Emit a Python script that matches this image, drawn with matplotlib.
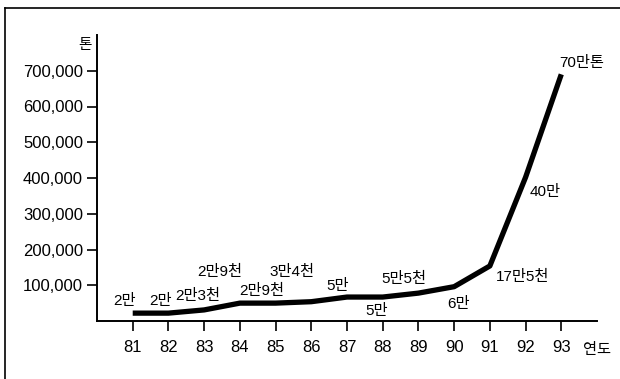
import matplotlib
matplotlib.use("Agg")
import matplotlib.pyplot as plt
from matplotlib.lines import Line2D

plt.rcParams['font.family'] = ['Liberation Sans', 'Noto Sans CJK KR', 'DejaVu Sans']

# 연도별 값
years = [81, 82, 83, 84, 85, 86, 87, 88, 89, 90, 91, 92, 93]
values = [22000, 22000, 31000, 50000, 50000, 54000, 67000, 67000,
          78000, 96000, 154000, 402000, 690000]
labels = ['2만', '2만', '2만3천', '2만9천', '2만9천', '3만4천', '5만',
          '5만', '5만5천', '6만', '17만5천', '40만', '70만톤']
# 라벨 위치 (점에서의 픽셀 오프셋)
label_offsets = [(-8, 12), (-8, 12), (-6, 14), (-20, 31), (-14, 12),
                 (-19, 30), (-9, 11), (-6, -14), (-15, 14), (4, -17),
                 (33, -11), (20, -15), (20, 11)]
yticks = [100000, 200000, 300000, 400000, 500000, 600000, 700000]

fig = plt.figure(figsize=(6.2, 3.79), dpi=100)
ax = fig.add_axes([97/620, 1-321/379, 500/620, 286/379])

ax.plot(years, values, color='black', lw=3.8, solid_capstyle='butt',
        solid_joinstyle='round')

for x, v, t, off in zip(years, values, labels, label_offsets):
    ax.annotate(t, (x, v), xytext=off, textcoords='offset pixels',
                ha='center', va='center', fontsize=11)

ax.set_xlim(80, 94)
ax.set_ylim(0, 800000)
ax.set_xticks(years)
ax.set_xticklabels([str(y) for y in years])
ax.set_yticks(yticks)
ax.set_yticklabels([f'{v:,}' for v in yticks])
ax.tick_params(axis='x', direction='out', length=7, width=1.2, pad=7, labelsize=12)
ax.tick_params(axis='y', direction='out', length=7, width=1.2, pad=3, labelsize=12)

for s in ['top', 'right']:
    ax.spines[s].set_visible(False)
for s in ['left', 'bottom']:
    ax.spines[s].set_linewidth(1.4)

ax.text(-0.024, 0.965, '톤', transform=ax.transAxes, ha='center', va='center', fontsize=10.5)
ax.text(1.0, -0.101, '연도', transform=ax.transAxes, ha='center', va='center', fontsize=11)

# 바깥 테두리 (왼쪽, 위)
fig.add_artist(Line2D([5/620, 5/620], [0, 1-8/379], color='black', lw=1.2,
                      transform=fig.transFigure))
fig.add_artist(Line2D([5/620, 1], [1-8/379, 1-8/379], color='black', lw=1.2,
                      transform=fig.transFigure))

fig.savefig('out.png', dpi=100)
